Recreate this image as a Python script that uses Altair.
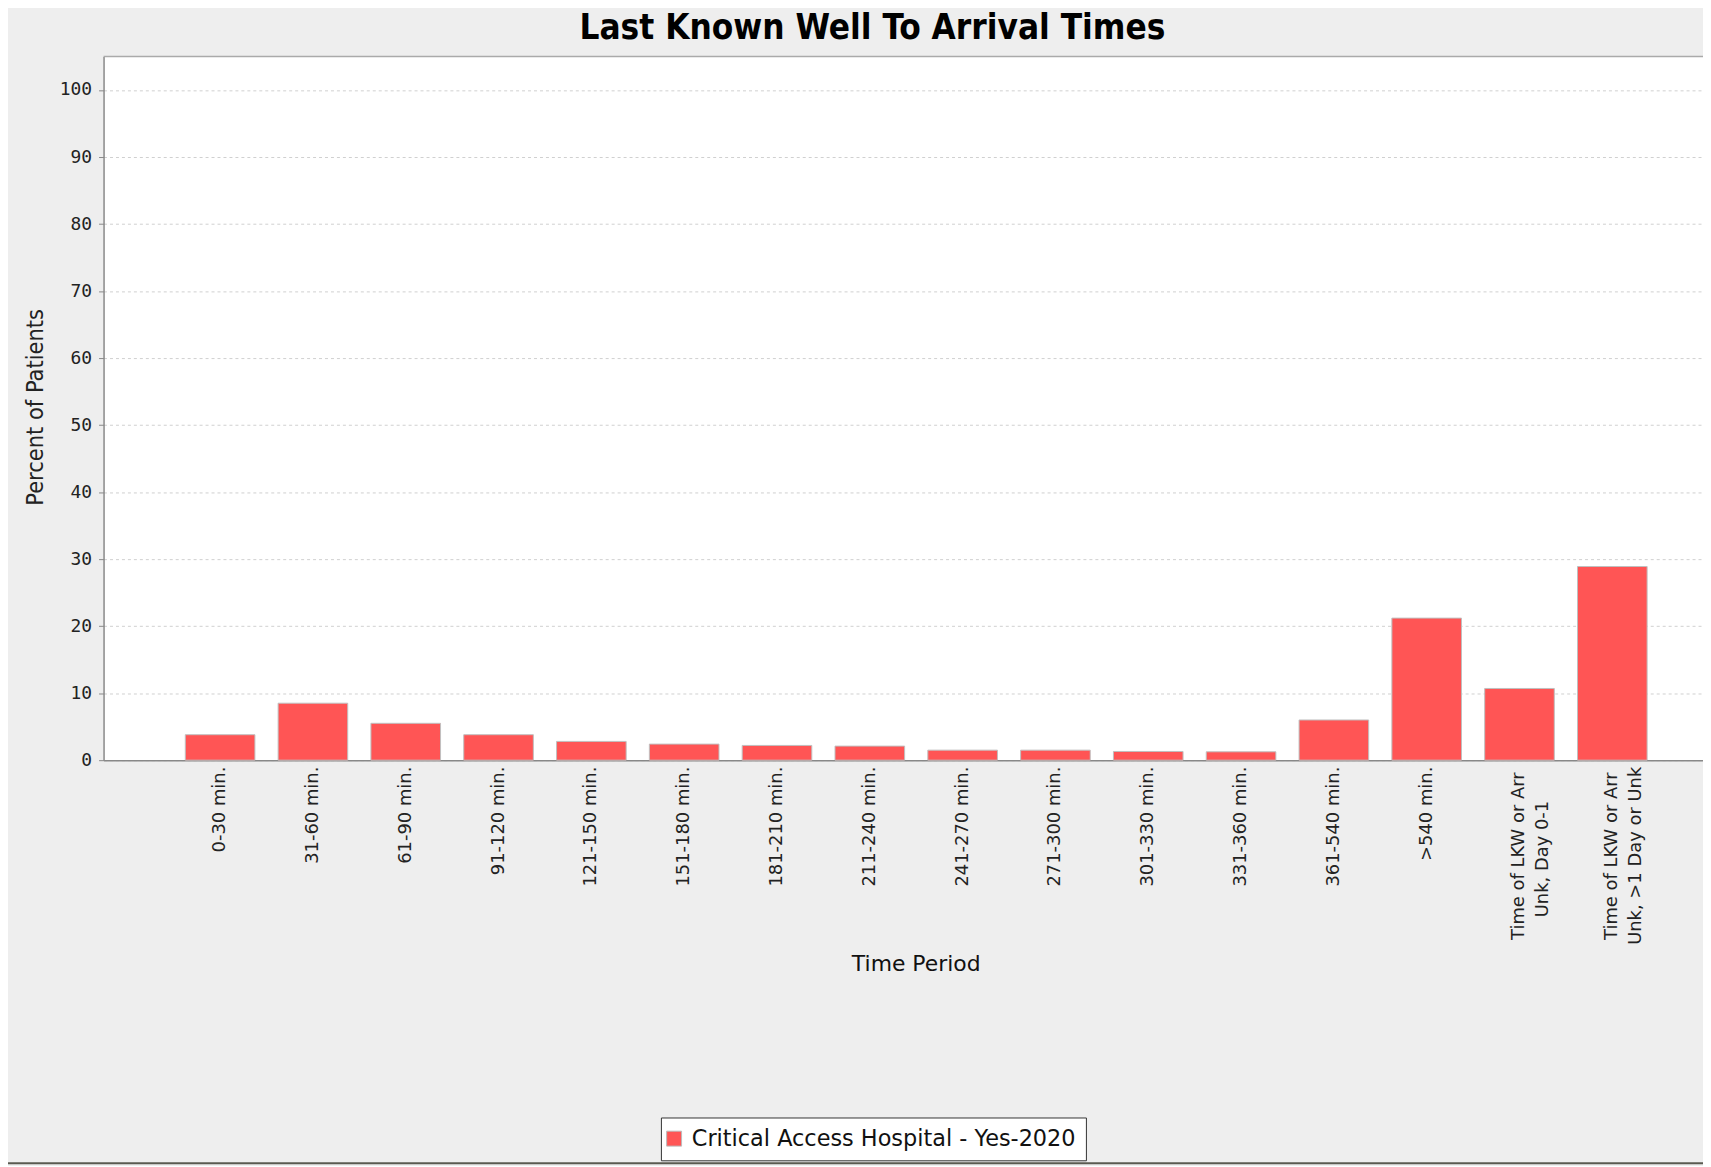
import altair as alt
import pandas as pd

categories = [
    "0-30 min.", "31-60 min.", "61-90 min.", "91-120 min.", "121-150 min.",
    "151-180 min.", "181-210 min.", "211-240 min.", "241-270 min.", "271-300 min.",
    "301-330 min.", "331-360 min.", "361-540 min.", ">540 min.",
    "Time of LKW or Arr\nUnk, Day 0-1", "Time of LKW or Arr\nUnk, >1 Day or Unk",
]
values = [3.8, 8.5, 5.5, 3.8, 2.8, 2.4, 2.2, 2.1, 1.5, 1.5, 1.3, 1.25, 6.0, 21.2, 10.7, 28.9]
series_name = "Critical Access Hospital - Yes-2020"
y_ticks = list(range(0, 101, 10))

df = pd.DataFrame({"period": categories, "pct": values, "series": [series_name] * len(categories)})

PLOT_W = 1607
PLOT_H = 707

# multi-line labels: centre the lines of a label block on each other
SPL = "split(datum.label, '\\n')"
label_expr = (
    f"length({SPL}) > 1 ? "
    f"[{SPL}[0] + '\\u00a0\\u200b', "
    f"{SPL}[1] + pad('', floor(length({SPL}[0]) - length({SPL}[1])), '\\u00a0') + '\\u200b']"
    f" : datum.label"
)

bars = alt.Chart(df).mark_bar(stroke="#C0C0C0", strokeWidth=1).encode(
    x=alt.X(
        "period:N",
        sort=None,
        scale=alt.Scale(paddingInner=0.25, paddingOuter=0.7415, align=0.594),
        axis=alt.Axis(
            title="Time Period",
            titleFont="DejaVu Sans", titleFontSize=22, titleFontWeight="normal", titleColor="#111111",
            titleX=816, titleY=204, titleBaseline="middle", titleAlign="center",
            labelAngle=270, labelAlign="right", labelBaseline="middle",
            labelFont="DejaVu Sans", labelFontSize=18, labelColor="#222222",
            labelPadding=6, labelLimit=400, labelLineHeight=24, labelOverlap=False,
            labelExpr=label_expr,
            ticks=False, domainColor="#888888", domainWidth=1.5, grid=False,
        ),
    ),
    y=alt.Y(
        "pct:Q",
        scale=alt.Scale(domain=[0, 105], nice=False),
        axis=alt.Axis(
            values=y_ticks,
            title="Percent of Patients",
            titleFont="DejaVu Sans Condensed", titleFontSize=23.5, titleFontWeight="normal", titleColor="#222222",
            titleAngle=270, titleX=-68, titleY=352, titleAlign="center", titleBaseline="middle",
            labelFont="DejaVu Sans Mono", labelFontSize=18, labelColor="#222222", labelPadding=7,
            tickSize=5, tickColor="#888888", domainColor="#888888", domainWidth=1.5,
            grid=True, gridColor="#D0D0D0", gridDash=[3, 3],
        ),
    ),
    color=alt.Color(
        "series:N",
        scale=alt.Scale(range=["#FF5555"]),
        legend=alt.Legend(
            orient="none", legendX=560, legendY=1066, title=None,
            strokeColor="#333333", fillColor="white", padding=10,
            labelFont="DejaVu Sans", labelFontSize=22.5, labelColor="#111111", labelLimit=800,
            symbolType="square", symbolSize=225, symbolStrokeColor="#BBBBBB", symbolStrokeWidth=1,
            symbolOffset=-8, labelOffset=6.5,
        ),
    ),
)

top_border = alt.Chart(pd.DataFrame({"v": [0]})).mark_rule(color="#AAAAAA", strokeWidth=1.5).encode(
    x=alt.value(0), x2=alt.value(PLOT_W), y=alt.value(0)
)

bottom_edge = alt.Chart(pd.DataFrame({"v": [0]})).mark_rule(color="#5A5A50", strokeWidth=2).encode(
    x=alt.value(-96), x2=alt.value(PLOT_W), y=alt.value(1112)
)

chart = alt.layer(bars, top_border, bottom_edge).properties(
    width=PLOT_W,
    height=PLOT_H,
    title=alt.TitleParams(
        "Last Known Well To Arrival Times",
        font="DejaVu Sans Condensed", fontSize=35, fontWeight="bold", color="black",
        anchor="middle", frame="group", dx=-31, dy=31, offset=13, baseline="alphabetic",
    ),
    autosize=alt.AutoSizeParams(type="none"),
    padding={"left": 96, "top": 46, "right": 0, "bottom": 405},
    background="#EEEEEE",
).configure_view(stroke=None, fill="white")

chart.save("out.html", embed_options={"renderer": "svg", "actions": False})
